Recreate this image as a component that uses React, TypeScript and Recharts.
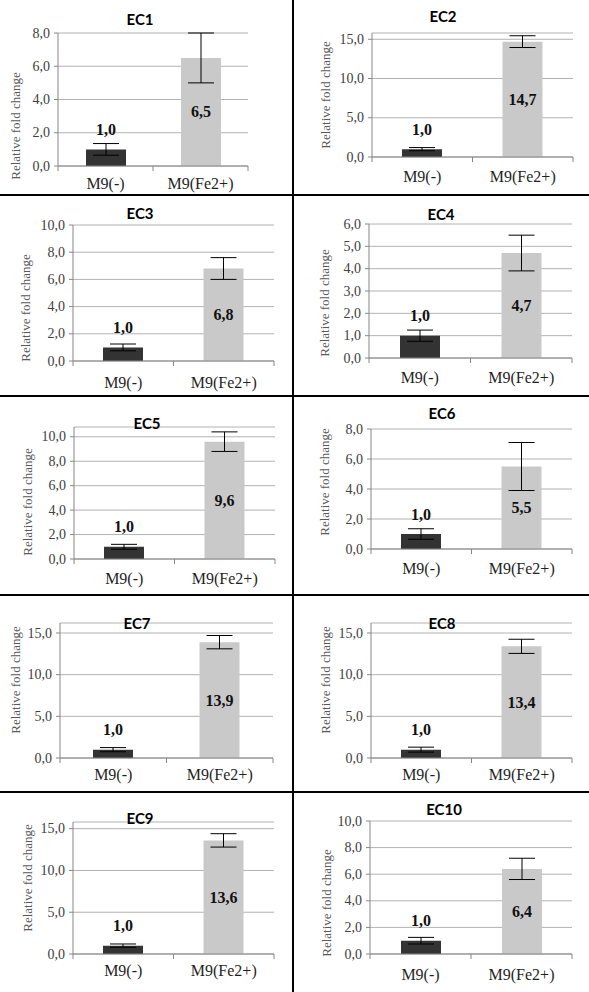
import { BarChart, Bar, XAxis, YAxis, CartesianGrid, ErrorBar, LabelList, Cell } from 'recharts';

// values
const panelNames = ['EC1', 'EC2', 'EC3', 'EC4', 'EC5', 'EC6', 'EC7', 'EC8', 'EC9', 'EC10'];
const categories = ['M9(-)', 'M9(Fe2+)'];
const controlValues = [1.0, 1.0, 1.0, 1.0, 1.0, 1.0, 1.0, 1.0, 1.0, 1.0];
const controlErrors = [0.35, 0.2, 0.25, 0.25, 0.2, 0.35, 0.25, 0.3, 0.2, 0.25];
const ironValues = [6.5, 14.7, 6.8, 4.7, 9.6, 5.5, 13.9, 13.4, 13.6, 6.4];
const ironErrors = [1.5, 0.75, 0.8, 0.8, 0.8, 1.6, 0.8, 0.85, 0.8, 0.8];
const yTickSets = [
  [0, 2, 4, 6, 8],
  [0, 5, 10, 15],
  [0, 2, 4, 6, 8, 10],
  [0, 1, 2, 3, 4, 5, 6],
  [0, 2, 4, 6, 8, 10],
  [0, 2, 4, 6, 8],
  [0, 5, 10, 15],
  [0, 5, 10, 15],
  [0, 5, 10, 15],
  [0, 2, 4, 6, 8, 10],
];
const yMaxes = [8, 15.8, 10, 6, 10.8, 8, 16.2, 16.2, 15.8, 10];

// layout (page coords): cell box, plot box [left, top, right, baseline], title, y label, x label line
const cells = [
  [0, 0, 293, 195], [293, 0, 296, 195],
  [0, 195, 293, 201], [293, 195, 296, 201],
  [0, 396, 293, 199], [293, 396, 296, 199],
  [0, 595, 293, 197], [293, 595, 296, 197],
  [0, 792, 293, 200], [293, 792, 296, 200],
];
const plots = [
  [58, 33, 248, 166], [372, 33, 573, 157],
  [73, 225, 274, 361], [369, 224, 572, 358],
  [74, 427, 275, 559], [371, 429, 572, 549],
  [60, 623, 273, 758], [371, 623, 572, 758],
  [73, 822, 274, 954], [370, 821, 572, 954],
];
const titlePos = [
  [140, 19], [443, 16], [140, 213], [441, 214], [147, 423],
  [442, 413], [137, 623], [442, 623], [140, 818], [444, 809],
];
const yLabelPos = [
  [15, 126], [325, 95], [25, 308], [324, 303], [27, 502],
  [324, 482], [15, 680], [325, 680], [27, 878], [326, 903],
];
const xLabelY = [183, 176, 382, 377, 578, 568, 774, 774, 970, 974];

const fmt = (v: number) => v.toFixed(1).replace('.', ',');
const serif = 'Liberation Serif';

const Panel = ({ i }: { i: number }) => {
  const [cx, cy, cw, ch] = cells[i];
  const [L, T, R, B] = plots[i];
  const yAxisW = 40;
  const xAxisH = 25;
  const margin = { left: L - cx - yAxisW, top: T - cy, right: cx + cw - R, bottom: cy + ch - B - xAxisH };
  const band = (R - L) / 2;
  const base = B - cy;
  const labelY = xLabelY[i] - cy;

  const data = categories.map((name, k) => ({
    name,
    value: k === 0 ? controlValues[i] : ironValues[i],
    err: k === 0 ? controlErrors[i] : ironErrors[i],
  }));

  const XTick = (props: any) => {
    const { x, payload, index } = props;
    return (
      <g>
        <line x1={x - band / 2} x2={x - band / 2} y1={base} y2={base + 5} stroke="#868686" />
        {index === 1 && <line x1={x + band / 2} x2={x + band / 2} y1={base} y2={base + 5} stroke="#868686" />}
        <text x={x} y={labelY} textAnchor="middle" dominantBaseline="central"
          fontFamily={serif} fontSize={16} fill="#1f1f1f">{payload.value}</text>
      </g>
    );
  };

  const YTick = (props: any) => {
    const { x, y, payload } = props;
    return (
      <text x={x} y={y} textAnchor="end" dominantBaseline="central"
        fontFamily={serif} fontSize={14} fill="#404040">{fmt(payload.value)}</text>
    );
  };

  const renderValue = (props: any) => {
    const vb = props.viewBox ?? props;
    const x = props.x ?? vb.x;
    const y = props.y ?? vb.y;
    const w = props.width ?? vb.width;
    const h = props.height ?? vb.height;
    const ty = props.index === 0 ? y - 20 : y + h / 2;
    return (
      <text x={x + w / 2} y={ty} textAnchor="middle" dominantBaseline="central"
        fontFamily={serif} fontWeight="bold" fontSize={16} fill="#111">
        {fmt(Number(props.value))}
      </text>
    );
  };

  return (
    <div style={{ position: 'absolute', left: cx, top: cy, width: cw, height: ch }}>
      <BarChart width={cw} height={ch} data={data} margin={margin} barSize={40}>
        <CartesianGrid horizontal vertical={false} stroke="#b2b2b2" />
        <XAxis dataKey="name" height={xAxisH} tickLine={false} axisLine={{ stroke: '#868686' }}
          tick={XTick} interval={0} />
        <YAxis type="number" width={yAxisW} domain={[0, yMaxes[i]]} ticks={yTickSets[i]} interval={0}
          allowDataOverflow tickSize={4} tickMargin={4}
          axisLine={{ stroke: '#868686' }} tickLine={{ stroke: '#868686' }} tick={YTick} />
        <Bar dataKey="value" isAnimationActive={false}>
          {data.map((_, k) => (
            <Cell key={k} fill={k === 0 ? '#333333' : '#c9c9c9'} />
          ))}
          <ErrorBar dataKey="err" width={13} stroke="#000" strokeWidth={1} direction="y" />
          <LabelList dataKey="value" content={renderValue} />
        </Bar>
        <text x={titlePos[i][0] - cx} y={titlePos[i][1] - cy} textAnchor="middle" dominantBaseline="central"
          fontFamily="Lato" fontWeight="bold" fontSize={15} fill="#000">
          {panelNames[i]}
        </text>
        <text x={yLabelPos[i][0] - cx} y={yLabelPos[i][1] - cy} textAnchor="middle" dominantBaseline="central"
          transform={`rotate(-90, ${yLabelPos[i][0] - cx}, ${yLabelPos[i][1] - cy})`}
          fontFamily={serif} fontSize={13} fill="#595959">
          Relative fold change
        </text>
      </BarChart>
    </div>
  );
};

const hLines = [195, 396, 595, 792];

export default function App() {
  return (
    <div style={{ position: 'absolute', left: 0, top: 0, width: 589, height: 992, background: '#fff', overflow: 'hidden' }}>
      {panelNames.map((_, i) => (
        <Panel key={i} i={i} />
      ))}
      {hLines.map((y) => (
        <div key={y} style={{ position: 'absolute', left: 0, top: y - 1, width: 589, height: 2, background: '#000' }} />
      ))}
      <div style={{ position: 'absolute', left: 292, top: 0, width: 2, height: 992, background: '#000' }} />
    </div>
  );
}
